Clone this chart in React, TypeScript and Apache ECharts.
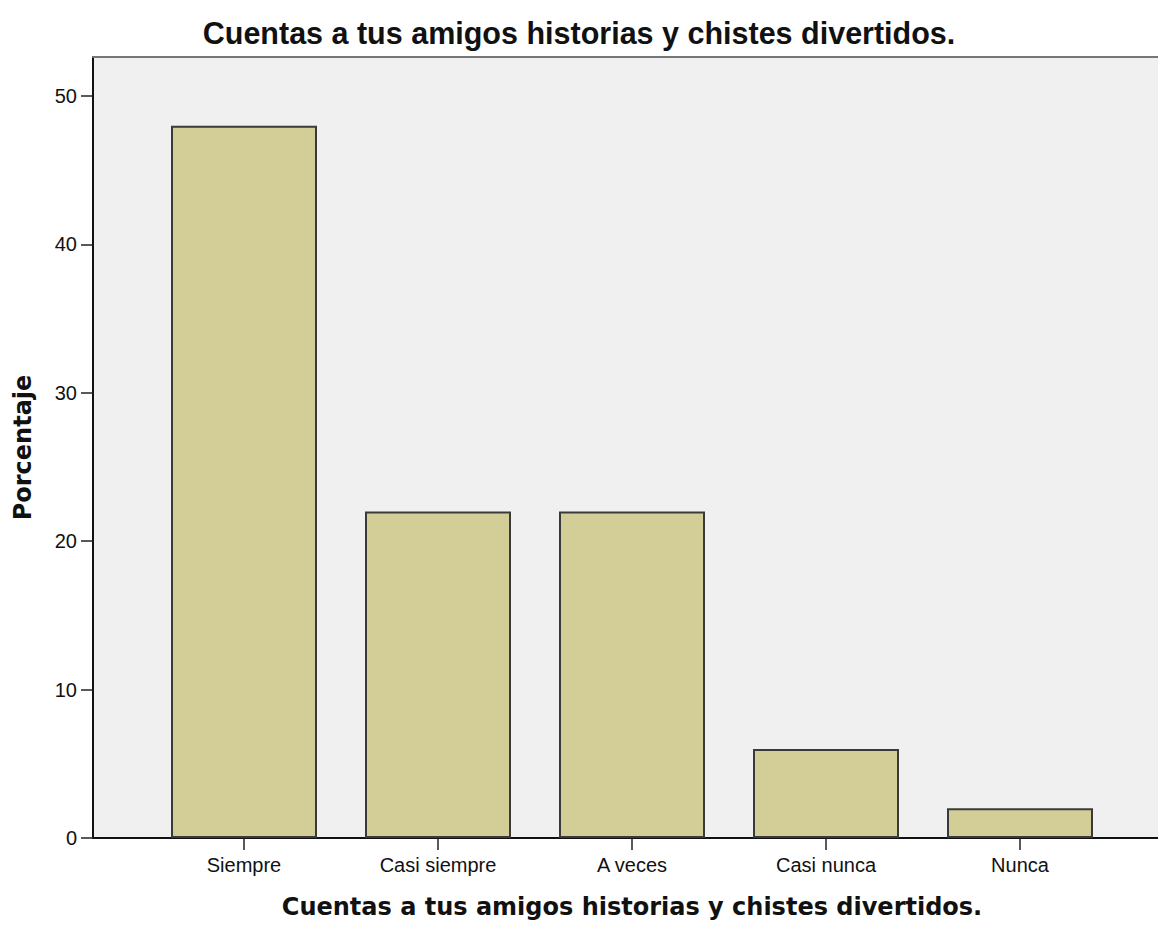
import React, { useEffect, useRef } from "react";
import * as echarts from "echarts";

const chartTitle = "Cuentas a tus amigos historias y chistes divertidos.";
const xAxisTitle = "Cuentas a tus amigos historias y chistes divertidos.";
const yAxisTitle = "Porcentaje";
const categories = ["Siempre", "Casi siempre", "A veces", "Casi nunca", "Nunca"];
const percentages = [48, 22, 22, 6, 2];
const yTicks = [0, 10, 20, 30, 40, 50];
const yMax = 52.63;

export default function App() {
  const ref = useRef<HTMLDivElement>(null);
  useEffect(() => {
    document.body.style.margin = "0";
    if (!ref.current) return;
    const chart = echarts.init(ref.current, undefined, { renderer: "svg" });
    const labelFont = "'Liberation Sans', Arial, sans-serif";
    const nameFont = "'DejaVu Sans', Verdana, sans-serif";
    chart.setOption({
      animation: false,
      backgroundColor: "#ffffff",
      title: {
        text: chartTitle,
        left: "center",
        top: 12,
        textStyle: { fontFamily: labelFont, fontSize: 30.5, fontWeight: "bold", color: "#111" },
      },
      grid: [
        {
          left: 93,
          top: 57,
          width: 1078,
          height: 781,
          show: true,
          backgroundColor: "#f0f0f0",
          borderWidth: 0,
        },
        { left: 147, top: 57, width: 970, height: 781 },
      ],
      xAxis: [
        {
          gridIndex: 0,
          type: "value",
          position: "bottom",
          min: 0,
          max: 1,
          axisLine: { show: true, onZero: false, lineStyle: { color: "#111", width: 2 } },
          axisTick: { show: false },
          axisLabel: { show: false },
          splitLine: { show: false },
        },
        {
          gridIndex: 1,
          type: "category",
          data: categories,
          boundaryGap: true,
          axisLine: { show: false },
          axisTick: { show: true, alignWithLabel: true, length: 12, lineStyle: { color: "#222", width: 1.5 } },
          axisLabel: { fontFamily: labelFont, fontSize: 20, color: "#111", margin: 17 },
          name: xAxisTitle,
          nameLocation: "middle",
          nameGap: 57,
          nameTextStyle: { fontFamily: nameFont, fontSize: 24, fontWeight: "bold", color: "#111" },
        },
        {
          gridIndex: 0,
          type: "value",
          position: "top",
          min: 0,
          max: 1,
          axisLine: { show: true, onZero: false, lineStyle: { color: "#777777", width: 2 } },
          axisTick: { show: false },
          axisLabel: { show: false },
          splitLine: { show: false },
        },
      ],
      yAxis: [
        {
          gridIndex: 0,
          type: "value",
          min: 0,
          max: yMax,
          interval: 10,
          axisLine: { show: true, lineStyle: { color: "#111", width: 2 } },
          axisTick: { show: true, length: 12, customValues: yTicks, lineStyle: { color: "#222", width: 1.5 } },
          axisLabel: { fontFamily: labelFont, fontSize: 20, color: "#111", margin: 16, customValues: yTicks },
          splitLine: { show: false },
          name: yAxisTitle,
          nameLocation: "middle",
          nameGap: 58,
          nameTextStyle: { fontFamily: nameFont, fontSize: 24, fontWeight: "bold", color: "#111" },
        },
        {
          gridIndex: 1,
          type: "value",
          min: 0,
          max: yMax,
          show: false,
        },
      ],
      series: [
        {
          type: "bar",
          xAxisIndex: 1,
          yAxisIndex: 1,
          data: percentages,
          barWidth: 146,
          itemStyle: { color: "#d3ce98", borderColor: "#3a3a3a", borderWidth: 2 },
          z: 3,
        },
      ],
    });
    return () => chart.dispose();
  }, []);
  return <div ref={ref} style={{ width: 1158, height: 925 }} />;
}
